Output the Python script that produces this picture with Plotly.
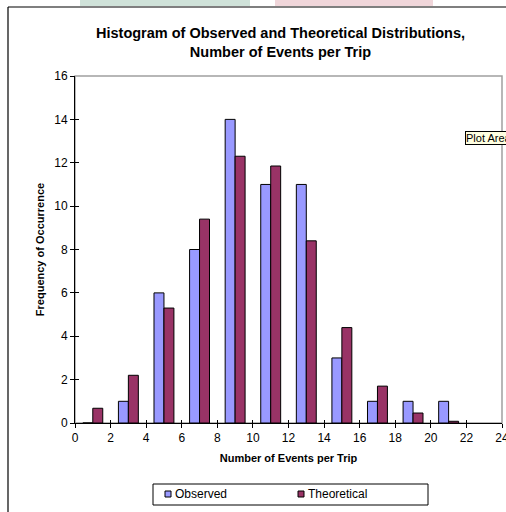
import plotly.graph_objects as go

# ---- data ----
bin_centers = [1, 3, 5, 7, 9, 11, 13, 15, 17, 19, 21]
observed = [0, 1, 6, 8, 14, 11, 11, 3, 1, 1, 1]
theoretical = [0.68, 2.2, 5.3, 9.4, 12.3, 11.85, 8.4, 4.4, 1.7, 0.46, 0.08]
x_ticks = list(range(0, 25, 2))
y_ticks = list(range(0, 17, 2))
series_names = ["Observed", "Theoretical"]
series_colors = ["#9999FF", "#993366"]

title_text = "Histogram of Observed and Theoretical Distributions,<br>Number of Events per Trip"
x_title = "Number of Events per Trip"
y_title = "Frequency of Occurrence"

# ---- layout helpers (pixel -> paper) ----
W, H = 506, 512
L, R, T, B = 75, 4, 76, 89
PW, PH = W - L - R, H - T - B


def px(x):
    return (x - L) / PW


def py(y):
    return (H - B - y) / PH


FONT = "Arial, Liberation Sans, sans-serif"

fig = go.Figure()
for name, vals, col in zip(series_names, [observed, theoretical], series_colors):
    fig.add_trace(go.Bar(
        x=bin_centers, y=vals, name=name,
        marker=dict(color=col, line=dict(color="#000000", width=1)),
    ))

axis_common = dict(
    showgrid=False, zeroline=False, ticks="outside", ticklen=4,
    tickcolor="#000", tickwidth=1, automargin=False, ticklabeloverflow="allow",
    tickfont=dict(family=FONT, size=12, color="#000"),
)

fig.update_layout(
    width=W, height=H,
    margin=dict(l=L, r=R, t=T, b=B, pad=0, autoexpand=False),
    paper_bgcolor="white", plot_bgcolor="white",
    barmode="group", bargap=0.44, bargroupgap=0,
    font=dict(family=FONT, size=12, color="#000"),
    xaxis=dict(
        range=[0, 24.0001], tickvals=x_ticks, ticktext=[str(v) for v in x_ticks],
        showline=True, linecolor="#000", linewidth=1,
        title=dict(text="<b>" + x_title + "</b>", font=dict(family=FONT, size=11), standoff=9),
        **axis_common,
    ),
    yaxis=dict(
        range=[0, 16], tickvals=y_ticks, ticktext=[str(v) for v in y_ticks],
        showline=True, linecolor="#000", linewidth=1,
        title=dict(text="<b>" + y_title + "</b>", font=dict(family=FONT, size=11), standoff=7),
        **axis_common,
    ),
    xaxis2=dict(range=[0, 24.0001], overlaying="x", anchor="y", tickvals=x_ticks,
                ticks="inside", ticklen=3, tickcolor="#000", showticklabels=False,
                showgrid=False, zeroline=False, showline=False, automargin=False),
    yaxis2=dict(range=[0, 16], overlaying="y", anchor="x", side="left", tickvals=y_ticks,
                ticks="inside", ticklen=4, tickcolor="#000", showticklabels=False,
                showgrid=False, zeroline=False, showline=False, automargin=False),
    showlegend=False,
)

# dummy invisible trace so the secondary (crossing-tick) axes render
fig.add_trace(go.Scatter(x=[0], y=[0], xaxis="x2", yaxis="y2", mode="markers",
                         marker=dict(opacity=0), showlegend=False, hoverinfo="skip"))

fig.add_annotation(
    text="<b>" + title_text + "</b>", xref="paper", yref="paper",
    x=px(280), y=py(42), xanchor="center", yanchor="middle",
    showarrow=False, font=dict(family=FONT, size=14.5, color="#000"),
)

# "Plot Area" tooltip from the source screenshot
fig.add_annotation(
    text="Plot Area", xref="paper", yref="paper",
    x=px(465), y=py(137.5), xanchor="left", yanchor="middle",
    showarrow=False, font=dict(family=FONT, size=11, color="#000"),
    bgcolor="#FFFFE1", bordercolor="#000", borderwidth=1, borderpad=0,
)

# legend (drawn as box + swatches + real text labels)
legend_swatch_x = [165, 298]
for name, col, sx in zip(series_names, series_colors, legend_swatch_x):
    fig.add_annotation(
        text=name, xref="paper", yref="paper", x=px(sx + 8), y=py(494),
        xanchor="left", yanchor="middle", showarrow=False,
        font=dict(family=FONT, size=12, color="#000"),
    )

shapes = [
    # plot area frame (gray)
    dict(type="rect", xref="paper", yref="paper", x0=0, y0=0, x1=1, y1=1,
         line=dict(color="#A0A0A0", width=1.5), layer="below"),
    # outer chart border (top and left)
    dict(type="line", xref="paper", yref="paper", x0=px(8), y0=py(7), x1=px(520), y1=py(7),
         line=dict(color="#000", width=1.2)),
    dict(type="line", xref="paper", yref="paper", x0=px(8), y0=py(7), x1=px(8), y1=py(520),
         line=dict(color="#000", width=1.2)),
    # faint page bands above the chart
    dict(type="rect", xref="paper", yref="paper", x0=px(80), y0=py(6), x1=px(250), y1=py(0),
         fillcolor="#CFE2D9", line=dict(width=0), layer="below"),
    dict(type="rect", xref="paper", yref="paper", x0=px(275), y0=py(6), x1=px(433), y1=py(0),
         fillcolor="#F0D6DA", line=dict(width=0), layer="below"),
    # legend box
    dict(type="rect", xref="paper", yref="paper", x0=px(153), y0=py(484), x1=px(428), y1=py(505),
         line=dict(color="#000", width=1), fillcolor="white"),
]
for col, sx in zip(series_colors, legend_swatch_x):
    shapes.append(dict(type="rect", xref="paper", yref="paper",
                       x0=px(sx), y0=py(491), x1=px(sx + 6), y1=py(497),
                       line=dict(color="#000", width=1), fillcolor=col))
fig.update_layout(shapes=shapes)

fig.write_html(
    "out.html",
    config={"displayModeBar": False},
    post_script="document.body.style.margin='0';document.body.style.overflow='hidden';",
)
